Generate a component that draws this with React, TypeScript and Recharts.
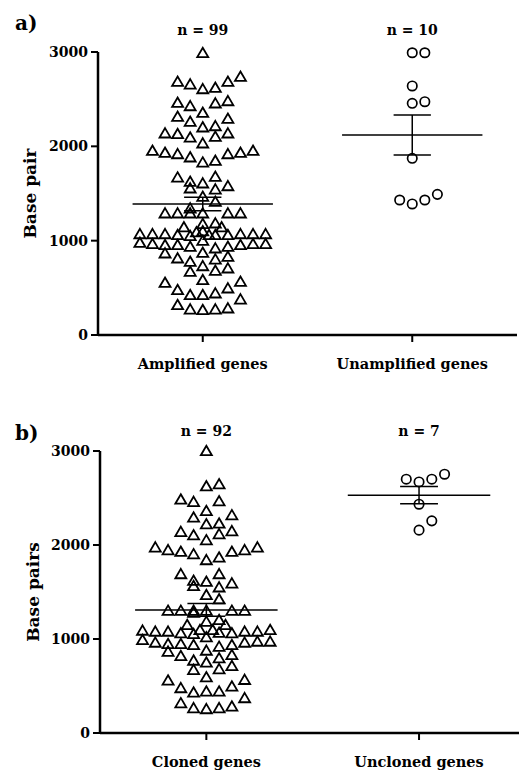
import React from "react";
import { ScatterChart, Scatter, XAxis, YAxis, ReferenceLine } from "recharts";

// [base pairs, column in the swarm]
const amplifiedGenes: [number, number][] = [
  [2990, 0],
  [2685, -2], [2657, -1], [2607, 0], [2621, 1], [2685, 2], [2738, 3],
  [2462, -2], [2427, -1], [2456, 1], [2480, 2],
  [2314, -2], [2261, -1], [2356, 0], [2215, 1], [2293, 2],
  [2138, -3], [2131, -2], [2095, -1], [2202, 0], [2032, 0], [2102, 1], [2138, 2],
  [1953, -4], [1932, -3], [1918, -2], [1884, -1], [1830, 0], [1847, 1], [1918, 2], [1932, 3], [1953, 4],
  [1671, -2], [1625, -1], [1555, -1], [1608, 0], [1678, 1], [1544, 1], [1579, 2],
  [1466, 0], [1413, 1], [1343, -1],
  [1290, -3], [1290, -2], [1290, -1], [1290, 0], [1290, 2], [1290, 3],
  [1142, -1.5], [1177, 0], [1184, 1], [1142, 1.5],
  [1070, -5], [1070, -4], [1070, -3], [1060, -2], [1050, -1], [1090, -0.5], [1100, 0], [1060, 0.5], [1060, 1], [1060, 2], [1070, 3], [1070, 4], [1070, 5],
  [978, -5], [965, -4], [954, -3], [954, -2], [936, -1], [1000, 0], [919, 1], [936, 2], [954, 3], [965, 4], [965, 5],
  [866, -3], [813, -2], [777, -1], [873, 0], [802, 1], [830, 2],
  [671, -1], [731, 0], [682, 1], [707, 2],
  [583, 0], [554, -3], [565, 3],
  [477, -2], [424, -1], [424, 0], [442, 1], [495, 2], [378, 3],
  [318, -2], [272, -1], [265, 0], [272, 1], [283, 2],
];

const unamplifiedGenes: [number, number][] = [
  [2992, 0], [2992, 1], [2640, 0], [2456, 0], [2473, 1], [1873, 0],
  [1431, -1], [1389, 0], [1431, 1], [1491, 2],
];

const clonedGenes: [number, number][] = [
  [3000, 0],
  [2625, 0], [2647, 1],
  [2484, -2], [2459, -1], [2466, 1],
  [2363, 0], [2318, 2], [2293, -1],
  [2222, 0], [2229, 1],
  [2140, -2], [2105, -1], [2052, 0], [2116, 1], [2148, 2],
  [1975, -4], [1946, -3], [1928, -2], [1903, -1], [1840, 0], [1868, 1], [1928, 2], [1946, 3], [1975, 4],
  [1691, -2], [1620, -1], [1564, -1], [1609, 0], [1691, 1], [1550, 1], [1592, 2],
  [1468, 0], [1423, 1],
  [1302, -3], [1302, -2], [1302, -1], [1280, -1], [1302, 0], [1302, 2], [1302, 3],
  [1150, -1.5], [1185, 0], [1203, 1], [1150, 1.5],
  [1090, -5], [1079, -4], [1079, -3], [1062, -2], [1054, -1], [1097, -0.5], [1097, 0.5], [1068, 1], [1062, 2], [1079, 3], [1079, 4], [1097, 5],
  [990, -5], [962, -4], [948, -3], [948, -2], [937, -1], [1019, 0], [919, 1], [937, 2], [962, 3], [973, 4], [973, 5],
  [866, -3], [820, -2], [771, -1], [877, 0], [796, 1], [831, 2],
  [672, -1], [750, 0], [680, 1], [714, 2],
  [594, 0], [559, -3], [566, 3],
  [478, -2], [431, -1], [442, 0], [442, 1], [495, 2], [372, 3],
  [318, -2], [265, -1], [255, 0], [265, 1], [283, 2],
];

const unclonedGenes: [number, number][] = [
  [2700, -1], [2671, 0], [2700, 1], [2753, 2], [2434, 0], [2158, 0], [2257, 1],
];

const categoriesA = ["Amplified genes", "Unamplified genes"];
const categoriesB = ["Cloned genes", "Uncloned genes"];
const countsA = ["n = 99", "n = 10"];
const countsB = ["n = 92", "n = 7"];
// mean and SEM
const meansA = [1389, 2120];
const semsA = [72, 212];
const meansB = [1309, 2530];
const semsB = [68, 92];
const yTicks = [0, 1000, 2000, 3000];

const FONT = "'DejaVu Serif', serif";
const COL = 0.06; // swarm column width in category units
const MEAN_HALF = 0.335;
const CAP_HALF = 0.089;

const tickStyle = { fill: "#000", fontSize: 14, fontWeight: "bold", fontFamily: FONT };
const catTickStyle = { ...tickStyle, fontSize: 14.5 };

const Triangle = (p: any) => {
  const { cx, cy } = p;
  return (
    <path
      d={`M${cx},${cy - 5.2}L${cx + 5.5},${cy + 4.2}L${cx - 5.5},${cy + 4.2}Z`}
      fill="none"
      stroke="#000"
      strokeWidth={1.8}
    />
  );
};

const Ring = (p: any) => (
  <circle cx={p.cx} cy={p.cy} r={4.7} fill="none" stroke="#000" strokeWidth={1.7} />
);

const toPoints = (pts: [number, number][], cat: number) =>
  pts.map(([bp, col]) => ({ x: cat + col * COL, bp }));

type PanelProps = {
  top: number;
  height: number;
  margin: { top: number; right: number; bottom: number; left: number };
  xMax: number;
  groups: [number, number][][];
  categories: string[];
  counts: string[];
  means: number[];
  sems: number[];
  yTitle: string;
  letter: string;
  letterY: number;
  titleShift: number;
  countGap: number;
  labelGap: number;
};

const Panel: React.FC<PanelProps> = (props) => {
  const { means, sems } = props;
  return (
    <div style={{ position: "absolute", left: 0, top: props.top }}>
      <ScatterChart width={519} height={props.height} margin={props.margin}>
        <XAxis
          xAxisId="top"
          orientation="top"
          type="number"
          dataKey="x"
          domain={[-0.5, props.xMax]}
          allowDataOverflow
          ticks={[0, 1]}
          interval={0}
          tickFormatter={(v: number) => props.counts[v]}
          axisLine={false}
          tickLine={false}
          tickSize={0}
          tickMargin={props.countGap}
          height={30}
          tick={tickStyle}
        />
        <XAxis
          type="number"
          dataKey="x"
          domain={[-0.5, props.xMax]}
          allowDataOverflow
          ticks={[0, 1]}
          interval={0}
          tickFormatter={(v: number) => props.categories[v]}
          axisLine={{ stroke: "#000", strokeWidth: 2.5 }}
          tickLine={{ stroke: "#000", strokeWidth: 2 }}
          tickSize={7}
          tickMargin={props.labelGap}
          height={40}
          tick={catTickStyle}
        />
        <YAxis
          type="number"
          dataKey="bp"
          domain={[0, 3000]}
          ticks={yTicks}
          interval={0}
          axisLine={{ stroke: "#000", strokeWidth: 2.5 }}
          tickLine={{ stroke: "#000", strokeWidth: 2 }}
          tickSize={7}
          tickMargin={3}
          width={60}
          tick={tickStyle}
          label={{
            value: props.yTitle,
            content: (lp: any) => {
              const vb = lp.viewBox || {};
              const cx = vb.x - props.titleShift;
              const cy = vb.y + vb.height / 2;
              return (
                <text
                  x={cx}
                  y={cy}
                  transform={`rotate(-90 ${cx} ${cy})`}
                  textAnchor="middle"
                  dominantBaseline="central"
                  fontSize={17}
                  fontWeight="bold"
                  fontFamily={FONT}
                  fill="#000"
                >
                  {props.yTitle}
                </text>
              );
            },
          }}
        />
        {props.groups.map((g, i) => (
          <Scatter
            key={i}
            data={toPoints(g, i)}
            shape={i === 0 ? Triangle : Ring}
            isAnimationActive={false}
          />
        ))}
        {means.map((m, i) => (
          <ReferenceLine
            key={`m${i}`}
            segment={[{ x: i - MEAN_HALF, y: m }, { x: i + MEAN_HALF, y: m }]}
            stroke="#000"
            strokeWidth={1.5}
            ifOverflow="visible"
          />
        ))}
        {means.map((m, i) => (
          <ReferenceLine
            key={`v${i}`}
            segment={[{ x: i, y: m - sems[i] }, { x: i, y: m + sems[i] }]}
            stroke="#000"
            strokeWidth={1.5}
            ifOverflow="visible"
          />
        ))}
        {means.map((m, i) => (
          <ReferenceLine
            key={`t${i}`}
            segment={[{ x: i - CAP_HALF, y: m + sems[i] }, { x: i + CAP_HALF, y: m + sems[i] }]}
            stroke="#000"
            strokeWidth={1.5}
            ifOverflow="visible"
          />
        ))}
        {means.map((m, i) => (
          <ReferenceLine
            key={`b${i}`}
            segment={[{ x: i - CAP_HALF, y: m - sems[i] }, { x: i + CAP_HALF, y: m - sems[i] }]}
            stroke="#000"
            strokeWidth={1.5}
            ifOverflow="visible"
          />
        ))}
      </ScatterChart>
      <svg width={50} height={56} style={{ position: "absolute", left: 0, top: 0 }}>
        <text x={15} y={props.letterY} fontSize={20} fontWeight="bold" fontFamily={FONT}>
          {props.letter}
        </text>
      </svg>
    </div>
  );
};

export default function App() {
  return (
    <div
      style={{
        position: "absolute",
        left: 0,
        top: 0,
        width: 519,
        height: 770,
        overflow: "hidden",
        background: "#fff",
      }}
    >
      <Panel
        top={0}
        height={380}
        margin={{ top: 22, right: 2, bottom: 5, left: 38 }}
        xMax={1.5}
        groups={[amplifiedGenes, unamplifiedGenes]}
        categories={categoriesA}
        counts={countsA}
        means={meansA}
        sems={semsA}
        yTitle="Base pair"
        letter="a)"
        letterY={30}
        titleShift={8}
        countGap={17}
        labelGap={17}
      />
      <Panel
        top={398}
        height={372}
        margin={{ top: 23, right: 0, bottom: -3, left: 40 }}
        xMax={1.47}
        groups={[clonedGenes, unclonedGenes]}
        categories={categoriesB}
        counts={countsB}
        means={meansB}
        sems={semsB}
        yTitle="Base pairs"
        letter="b)"
        letterY={42}
        titleShift={7}
        countGap={15}
        labelGap={17}
      />
    </div>
  );
}
